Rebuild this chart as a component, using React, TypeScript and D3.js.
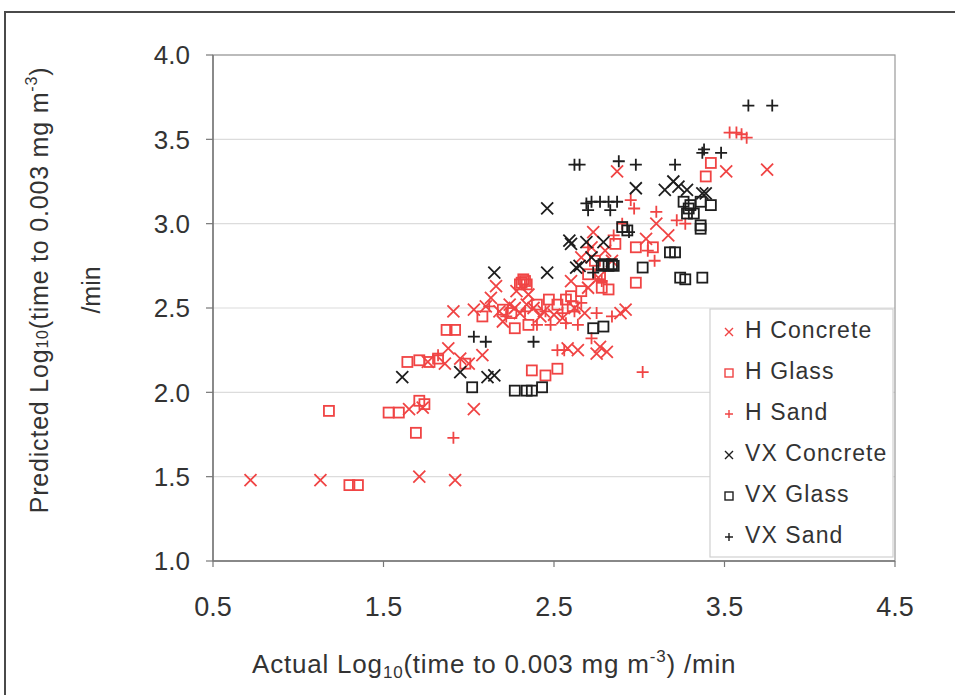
import React from "react";
import * as d3 from "d3";

const xTicks = [0.5, 1.5, 2.5, 3.5, 4.5];
const yTicks = [1.0, 1.5, 2.0, 2.5, 3.0, 3.5, 4.0];

const hConcrete: [number, number][] = [
  [0.72,1.48],[1.13,1.48],[1.71,1.50],[1.92,1.48],[1.65,1.90],[1.73,1.91],[2.03,1.90],[1.91,2.48],[1.88,2.26],[1.76,2.18],[1.86,2.17],[1.95,2.20],[2.00,2.17],[2.08,2.22],[2.16,2.63],[2.13,2.56],[2.03,2.49],[2.10,2.51],[2.18,2.48],[2.24,2.52],[2.30,2.47],[2.38,2.50],[2.44,2.48],[2.50,2.46],[2.55,2.44],[2.62,2.50],[2.68,2.47],[2.58,2.26],[2.64,2.25],[2.77,2.27],[2.81,2.24],[2.75,2.23],[2.92,2.49],[2.89,2.47],[2.66,2.80],[2.72,2.86],[2.80,2.84],[2.87,3.31],[3.04,2.91],[3.17,2.93],[3.51,3.31],[3.75,3.32],[2.35,2.58],[2.60,2.66],[2.84,2.78],[2.20,2.42],[2.73,2.95],[3.10,3.00],[2.27,2.50],[2.34,2.52],[2.42,2.45],[2.70,2.62],[2.76,2.68],[2.28,2.60]
];
const hGlass: [number, number][] = [
  [1.30,1.45],[1.35,1.45],[1.18,1.89],[1.53,1.88],[1.59,1.88],[1.69,1.76],[1.71,1.95],[1.74,1.93],[1.64,2.18],[1.71,2.19],[1.77,2.18],[1.82,2.20],[1.87,2.37],[1.92,2.37],[1.98,2.17],[2.37,2.13],[2.45,2.10],[2.52,2.14],[2.31,2.65],[2.32,2.67],[2.33,2.66],[2.30,2.64],[2.34,2.64],[2.08,2.45],[2.20,2.49],[2.25,2.47],[2.35,2.40],[2.27,2.38],[2.47,2.55],[2.52,2.52],[2.57,2.55],[2.61,2.51],[2.66,2.60],[2.78,2.62],[2.82,2.61],[2.98,2.86],[3.08,2.86],[2.98,2.65],[3.42,3.36],[3.39,3.28],[2.70,2.70],[2.74,2.78],[2.77,2.70],[2.40,2.52],[2.86,2.88],[2.60,2.57]
];
const hSand: [number, number][] = [
  [1.91,1.73],[3.02,2.12],[2.52,2.25],[2.56,2.25],[2.95,3.14],[2.97,3.09],[3.10,3.07],[3.22,3.02],[3.27,3.00],[3.09,2.78],[3.53,3.54],[3.57,3.54],[3.60,3.53],[3.63,3.51],[2.40,2.40],[2.48,2.40],[2.57,2.41],[2.64,2.40],[2.45,2.48],[2.55,2.47],[2.62,2.48],[2.22,2.45],[2.75,2.47],[2.84,2.45],[2.70,2.86],[2.85,2.93],[2.72,2.32],[3.05,2.84],[2.12,2.51],[2.66,2.53],[2.90,3.00],[1.82,2.22],[2.78,2.66],[2.33,2.48]
];
const vxConcrete: [number, number][] = [
  [1.61,2.09],[1.95,2.12],[2.11,2.09],[2.15,2.10],[2.15,2.71],[2.46,2.71],[2.63,2.74],[2.59,2.90],[2.60,2.88],[2.69,2.89],[2.79,2.89],[2.65,2.75],[2.98,3.21],[3.15,3.20],[3.20,3.25],[3.23,3.22],[3.28,3.20],[3.37,3.18],[3.39,3.18],[2.46,3.09],[2.72,2.80]
];
const vxGlass: [number, number][] = [
  [2.02,2.03],[2.27,2.01],[2.34,2.01],[2.37,2.01],[2.43,2.03],[2.73,2.38],[2.79,2.39],[2.78,2.75],[2.82,2.75],[2.85,2.75],[2.79,2.76],[2.84,2.76],[3.02,2.74],[2.90,2.98],[2.93,2.96],[3.18,2.83],[3.21,2.83],[3.24,2.68],[3.27,2.67],[3.37,2.68],[3.26,3.13],[3.30,3.11],[3.36,3.13],[3.42,3.11],[3.28,3.06],[3.32,3.06],[3.36,2.97],[3.36,2.99],[3.29,3.09]
];
const vxSand: [number, number][] = [
  [2.03,2.33],[2.10,2.30],[2.38,2.30],[2.62,3.35],[2.65,3.35],[2.88,3.37],[2.98,3.35],[3.21,3.35],[3.37,3.42],[3.38,3.44],[3.48,3.42],[3.64,3.70],[3.78,3.70],[2.69,3.12],[2.72,3.13],[2.77,3.13],[2.82,3.13],[2.87,3.13],[2.70,3.08],[2.83,3.08],[2.94,2.95],[2.73,2.71]
];

const seriesNames = ["H Concrete", "H Glass", "H Sand", "VX Concrete", "VX Glass", "VX Sand"];
const seriesData = [hConcrete, hGlass, hSand, vxConcrete, vxGlass, vxSand];
const seriesShapes = ["cross", "square", "plus", "cross", "square", "plus"];
const seriesColors = ["#f04444", "#f04444", "#f04444", "#1e1e1e", "#1e1e1e", "#1e1e1e"];

function Marker({ shape, x, y, color, s, sw }: { shape: string; x: number; y: number; color: string; s: number; sw: number }) {
  if (shape === "square") {
    return <rect x={x - s} y={y - s} width={2 * s} height={2 * s} fill="none" stroke={color} strokeWidth={sw} />;
  }
  if (shape === "plus") {
    return <path d={`M${x - s},${y}H${x + s}M${x},${y - s}V${y + s}`} stroke={color} strokeWidth={sw} fill="none" />;
  }
  return <path d={`M${x - s},${y - s}L${x + s},${y + s}M${x - s},${y + s}L${x + s},${y - s}`} stroke={color} strokeWidth={sw} fill="none" />;
}

export default function App() {
  const W = 955, H = 695;
  const left = 213, right = 895, top = 55, bottom = 561;
  const x = d3.scaleLinear().domain([0.5, 4.5]).range([left, right]);
  const y = d3.scaleLinear().domain([1.0, 4.0]).range([bottom, top]);
  const font = "'Liberation Sans', Arial, sans-serif";
  const textColor = "#333";

  const legX = 710, legY = 309, legW = 183, legH = 248;

  return (
    <svg width={W} height={H} style={{ position: "absolute", left: 0, top: 0, background: "#fff" }} fontFamily={font}>
      <rect x={0} y={0} width={W} height={H} fill="#fff" />
      <rect x={5} y={12} width={W + 20} height={H + 20} fill="none" stroke="#4a4a4a" strokeWidth={2} />

      {yTicks.map((t) => (
        <line key={"g" + t} x1={left} x2={right} y1={y(t)} y2={y(t)} stroke="#dcdcdc" strokeWidth={1.2} />
      ))}
      <rect x={left} y={top} width={right - left} height={bottom - top} fill="none" stroke="#9a9a9a" strokeWidth={1.2} />
      <line x1={left} x2={left} y1={top} y2={bottom} stroke="#777" strokeWidth={1.5} />
      <line x1={left} x2={right} y1={bottom} y2={bottom} stroke="#777" strokeWidth={1.5} />
      {yTicks.map((t) => (
        <g key={"yt" + t}>
          <line x1={left - 7} x2={left} y1={y(t)} y2={y(t)} stroke="#777" strokeWidth={1.2} />
          <text x={190} y={y(t)} dy="0.36em" textAnchor="end" fontSize={26} fill={textColor}>
            {d3.format(".1f")(t)}
          </text>
        </g>
      ))}
      {xTicks.map((t) => (
        <g key={"xt" + t}>
          <line x1={x(t)} x2={x(t)} y1={bottom} y2={bottom + 6} stroke="#777" strokeWidth={1.2} />
          <text x={x(t)} y={616} textAnchor="middle" fontSize={27} fill={textColor}>
            {d3.format(".1f")(t)}
          </text>
        </g>
      ))}

      {seriesData.map((data, i) => (
        <g key={"s" + i}>
          {data.map((d, j) => (
            <Marker key={j} shape={seriesShapes[i]} x={x(d[0])} y={y(d[1])} color={seriesColors[i]} s={seriesShapes[i] === "square" ? 5 : 6} sw={1.8} />
          ))}
        </g>
      ))}

      <rect x={legX} y={legY} width={legW} height={legH} fill="#fff" stroke="#d0d0d0" strokeWidth={1.2} />
      {seriesNames.map((n, i) => {
        const cy = 330 + i * 41;
        return (
          <g key={"l" + i}>
            <Marker shape={seriesShapes[i]} x={729} y={cy + 2} color={seriesColors[i]} s={4} sw={1.4} />
            <text x={745} y={cy} dy="0.36em" fontSize={23} letterSpacing={1.1} fill={textColor}>{n}</text>
          </g>
        );
      })}

      <text x={252} y={673} fontSize={26} letterSpacing={0.8} fill={textColor}>
        Actual Log<tspan fontSize={17} dy={5}>10</tspan><tspan dy={-5}>(time to 0.003 mg m</tspan><tspan fontSize={17} dy={-11}>-3</tspan><tspan dy={11}>) /min</tspan>
      </text>

      <text transform="translate(48,290) rotate(-90)" textAnchor="middle" fontSize={25} letterSpacing={0.8} fill={textColor}>
        Predicted Log<tspan fontSize={16}>10</tspan>(time to 0.003 mg m<tspan fontSize={16} dy={-11}>-3</tspan><tspan dy={11}>)</tspan>
      </text>
      <text transform="translate(100,290) rotate(-90)" textAnchor="middle" fontSize={25} fill={textColor}>
        /min
      </text>
    </svg>
  );
}
